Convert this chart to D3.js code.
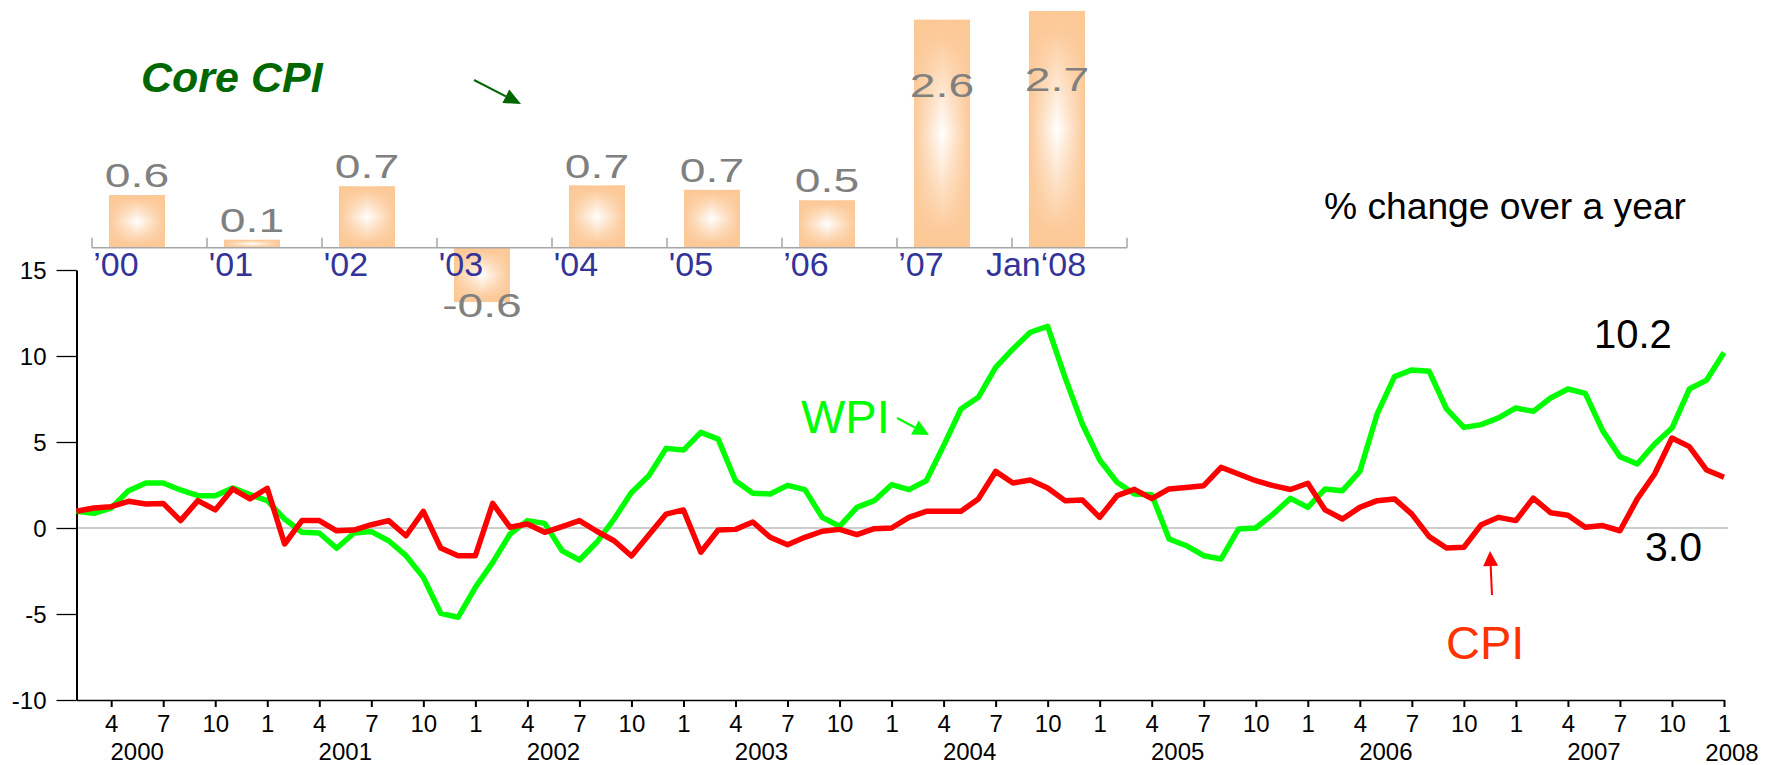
<!DOCTYPE html>
<html>
<head>
<meta charset="utf-8">
<script src="https://cdn.jsdelivr.net/npm/d3@7"></script>
<style>
body { margin: 0; background: #fff; }
svg { display: block; font-family: "Liberation Sans", Arial, sans-serif; }
</style>
</head>
<body>
<svg id="chart" width="1774" height="765"></svg>
<script>
// month index: 1 = Feb 2000 ... 96 = Jan 2008
var months = d3.range(1, 97);

// % change over a year
var wpi = [0.97, 0.85, 1.16, 2.17, 2.62, 2.62, 2.21, 1.88, 1.88, 2.33, 1.94, 1.59,
	0.52, -0.25, -0.29, -1.18, -0.29, -0.21, -0.74, -1.61, -2.87, -4.96, -5.19, -3.45,
	-2.0, -0.35, 0.43, 0.27, -1.32, -1.86, -0.83, 0.52, 2.07, 3.04, 4.63, 4.53,
	5.56, 5.17, 2.75, 2.02, 1.98, 2.48, 2.23, 0.62, 0.10, 1.20, 1.59, 2.52,
	2.23, 2.75, 4.79, 6.92, 7.60, 9.34, 10.41, 11.38, 11.72, 8.76, 6.05, 3.95,
	2.66, 1.98, 1.94, -0.64, -1.03, -1.61, -1.80, -0.06, 0.0, 0.81, 1.72, 1.20,
	2.27, 2.17, 3.29, 6.63, 8.80, 9.19, 9.11, 6.92, 5.85, 6.01, 6.40, 6.98,
	6.78, 7.56, 8.08, 7.83, 5.66, 4.15, 3.72, 4.88, 5.81, 8.08, 8.60, 10.2];

var cpi = [0.97, 1.16, 1.24, 1.55, 1.40, 1.43, 0.43, 1.59, 1.05, 2.27, 1.69, 2.31,
	-0.93, 0.43, 0.43, -0.16, -0.12, 0.19, 0.43, -0.45, 0.97, -1.16, -1.61, -1.61,
	1.43, 0.04, 0.23, -0.25, 0.08, 0.43, -0.19, -0.74, -1.63, -0.41, 0.81, 1.05,
	-1.41, -0.12, -0.08, 0.35, -0.54, -0.97, -0.54, -0.19, -0.08, -0.39, -0.04, 0.0,
	0.62, 0.97, 0.97, 0.97, 1.69, 3.29, 2.62, 2.79, 2.33, 1.59, 1.63, 0.62,
	1.88, 2.25, 1.71, 2.27, 2.36, 2.46, 3.53, 3.14, 2.75, 2.46, 2.24, 2.60,
	1.05, 0.52, 1.20, 1.59, 1.69, 0.81, -0.50, -1.16, -1.12, 0.19, 0.62, 0.43,
	1.74, 0.89, 0.74, 0.04, 0.14, -0.16, 1.69, 3.14, 5.23, 4.73, 3.37, 2.95];

var monthTicks = d3.range(3, 97, 3);
var years = ["2000", "2001", "2002", "2003", "2004", "2005", "2006", "2007"];
var yTicks = [-10, -5, 0, 5, 10, 15];

// inset: core CPI
var coreLabels = ["’00", "'01", "'02", "'03", "'04", "'05", "’06", "’07", "Jan‘08"];
var coreValues = [0.6, 0.09, 0.7, -0.62, 0.71, 0.66, 0.54, 2.6, 2.7];

var svg = d3.select("#chart");
var peach = "#fcc896";

var x = d3.scaleLinear().domain([1, 96]).range([76.5, 1724]);
var y = d3.scaleLinear().domain([-10, 15]).range([700, 270]);

// zero line
svg.append("line")
	.attr("x1", x(1)).attr("x2", x(96) + 4)
	.attr("y1", y(0)).attr("y2", y(0))
	.attr("stroke", "#bdbdbd").attr("stroke-width", 1.5);

var yAxis = svg.append("g")
	.attr("transform", "translate(76.5,0)")
	.call(d3.axisLeft(y).tickValues(yTicks).tickSize(20).tickSizeOuter(0).tickPadding(10)
		.tickFormat(d => String(d)));
yAxis.attr("font-size", 24).attr("font-family", null);
yAxis.select(".domain").attr("stroke-width", 2);
yAxis.selectAll(".tick line").attr("stroke-width", 1.3);
yAxis.selectAll("text").attr("dy", "0.37em");

var xAxis = svg.append("g")
	.attr("transform", "translate(0,700)")
	.call(d3.axisBottom(x).tickValues(monthTicks).tickSize(7).tickSizeOuter(0).tickPadding(8)
		.tickFormat(i => (i % 12) + 1));
xAxis.attr("font-size", 24).attr("font-family", null);
xAxis.select(".domain").attr("stroke-width", 1.5);
xAxis.selectAll(".tick line").attr("stroke-width", 2);

svg.selectAll(".year")
	.data(years)
	.enter()
	.append("text")
	.attr("class", "year")
	.attr("x", (d, k) => x(12 * k + 4.5))
	.attr("y", 760)
	.attr("text-anchor", "middle")
	.attr("font-size", 24)
	.text(d => d);

svg.append("text")
	.attr("x", x(96) + 8).attr("y", 761)
	.attr("text-anchor", "middle").attr("font-size", 24)
	.text("2008");

var line = d3.line()
	.x((d, i) => x(months[i]))
	.y(d => y(d));

svg.append("path").datum(wpi)
	.attr("d", line)
	.attr("fill", "none").attr("stroke", "#00ff00")
	.attr("stroke-width", 5.5).attr("stroke-linejoin", "round");

svg.append("path").datum(cpi)
	.attr("d", line)
	.attr("fill", "none").attr("stroke", "#ff0000")
	.attr("stroke-width", 5.5).attr("stroke-linejoin", "round");

function arrow(x1, y1, x2, y2, color, w, len, half) {
	var a = Math.atan2(y2 - y1, x2 - x1);
	var bx = x2 - len * Math.cos(a), by = y2 - len * Math.sin(a);
	svg.append("line")
		.attr("x1", x1).attr("y1", y1).attr("x2", bx).attr("y2", by)
		.attr("stroke", color).attr("stroke-width", w);
	svg.append("path")
		.attr("d", "M" + x2 + "," + y2 +
			"L" + (bx + half * Math.sin(a)) + "," + (by - half * Math.cos(a)) +
			"L" + (bx - half * Math.sin(a)) + "," + (by + half * Math.cos(a)) + "Z")
		.attr("fill", color);
}

// annotations
svg.append("text").attr("x", 801).attr("y", 433)
	.attr("font-size", 47).attr("fill", "#00ff00").text("WPI");
arrow(897, 418, 929, 435, "#00ff00", 2, 16, 8);

svg.append("text").attr("x", 1446).attr("y", 659)
	.attr("font-size", 47).attr("fill", "#ff3300").text("CPI");
arrow(1492, 595, 1490, 551, "#ff0000", 2, 15, 7.5);

svg.append("text").attr("x", 1594).attr("y", 348)
	.attr("font-size", 40).text("10.2");
svg.append("text").attr("x", 1645).attr("y", 561)
	.attr("font-size", 41).text("3.0");

svg.append("text").attr("x", 1324).attr("y", 219)
	.attr("font-size", 37).attr("textLength", 362).attr("lengthAdjust", "spacingAndGlyphs")
	.text("% change over a year");

// inset bar chart
var defs = svg.append("defs");
var gh = defs.append("linearGradient").attr("id", "barH");
gh.append("stop").attr("offset", "0%").attr("stop-color", peach);
gh.append("stop").attr("offset", "50%").attr("stop-color", "#ffffff");
gh.append("stop").attr("offset", "100%").attr("stop-color", peach);

var gv = defs.append("linearGradient").attr("id", "barV")
	.attr("x1", 0).attr("y1", 0).attr("x2", 0).attr("y2", 1);
[[0, 1], [0.08, 0.95], [0.5, 0], [0.92, 0.95], [1, 1]].forEach(function(s) {
	gv.append("stop").attr("offset", s[0]).attr("stop-color", peach).attr("stop-opacity", s[1]);
});

var xb = d3.scaleBand().domain(coreLabels).range([92, 1127]);
var yb = d3.scaleLinear().domain([0, 2.7]).range([247.7, 11]);
var barOff = 17, barW = 56;

["barH", "barV"].forEach(function(g) {
	svg.selectAll(".bar-" + g)
		.data(coreValues)
		.enter()
		.append("rect")
		.attr("class", "bar-" + g)
		.attr("x", (d, i) => xb(coreLabels[i]) + barOff)
		.attr("y", d => yb(Math.max(d, 0)))
		.attr("width", barW)
		.attr("height", d => Math.abs(yb(d) - yb(0)))
		.attr("fill", "url(#" + g + ")");
});

svg.append("line")
	.attr("x1", 92).attr("x2", 1127).attr("y1", yb(0)).attr("y2", yb(0))
	.attr("stroke", "#a6a6a6").attr("stroke-width", 1.5);

svg.selectAll(".btick")
	.data(coreLabels.map(d => xb(d)).concat([xb.range()[1]]))
	.enter()
	.append("line")
	.attr("class", "btick")
	.attr("x1", d => d).attr("x2", d => d)
	.attr("y1", yb(0) - 10).attr("y2", yb(0))
	.attr("stroke", "#a6a6a6").attr("stroke-width", 1.5);

svg.selectAll(".blabel")
	.data(coreLabels)
	.enter()
	.append("text")
	.attr("class", "blabel")
	.attr("x", d => xb(d) + 24)
	.attr("y", 275.5)
	.attr("text-anchor", "middle")
	.attr("font-size", 34)
	.attr("fill", "#333399")
	.text(d => d);

svg.selectAll(".bvalue")
	.data(coreValues)
	.enter()
	.append("text")
	.attr("class", "bvalue")
	.attr("transform", function(d, i) {
		var pos = d > 2 ? d * 0.66 : d >= 0 ? d + 0.09 : d - 0.17;
		return "translate(" + (xb(coreLabels[i]) + barOff + barW / 2) + "," + yb(pos) + ") scale(1.36,1)";
	})
	.attr("text-anchor", "middle")
	.attr("font-size", 34)
	.attr("fill", "#808080")
	.text(d => d.toFixed(1));

svg.append("text").attr("x", 141).attr("y", 92)
	.attr("font-size", 43).attr("font-weight", "bold").attr("font-style", "italic")
	.attr("fill", "#006600").text("Core CPI");
arrow(474, 80, 521, 104, "#006600", 2, 17, 7.5);
</script>
</body>
</html>
